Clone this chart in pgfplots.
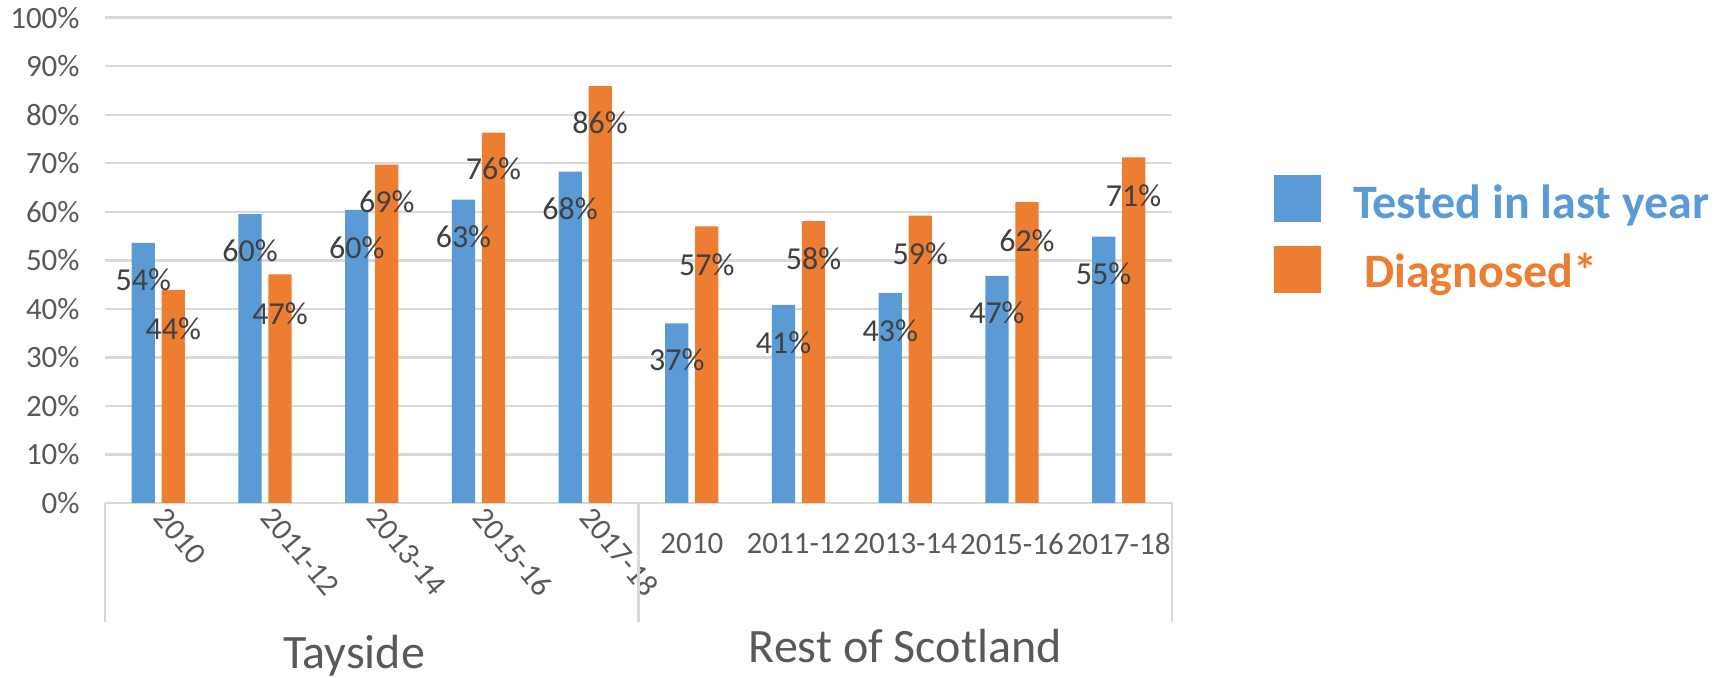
\documentclass[border=0pt]{standalone}
\usepackage{pgfplots}
\pgfplotsset{compat=1.18}
\usepackage{fontspec}
\setmainfont{Carlito}
\definecolor{tblue}{HTML}{5B9BD5}
\definecolor{torange}{HTML}{ED7D31}
\definecolor{gridgray}{HTML}{D9D9D9}
\definecolor{ticktext}{HTML}{595959}
\definecolor{labtext}{HTML}{404040}
\newcommand{\tickfont}{\fontsize{15.5}{18}\selectfont}
\newcommand{\labfont}{\fontsize{16}{19}\selectfont}
\begin{document}
\begin{tikzpicture}
\useasboundingbox (-52.5pt,-87.5pt) rectangle (814pt,251.5pt);
\begin{axis}[
  scale only axis,
  width=533.5pt, height=242.65pt,
  xmin=-0.5, xmax=9.5, ymin=0, ymax=100,
  axis line style={draw=none},
  major tick length=0pt,
  ymajorgrids, grid style={gridgray, line width=1.2pt},
  ytick={0,10,...,100},
  yticklabels={0\%,10\%,20\%,30\%,40\%,50\%,60\%,70\%,80\%,90\%,100\%},
  yticklabel style={font=\tickfont, text=ticktext, anchor=east, inner sep=0pt, xshift=-12.5pt},
  xtick={0,1,2,3,4},
  xticklabels={2010,2011-12,2013-14,2015-16,2017-18},
  xticklabel style={font=\tickfont, text=ticktext, xshift=5pt, yshift=2pt, rotate=-50, anchor=north west, inner sep=2pt},
  clip=false,
  legend style={draw=none, fill=none, at={(rel axis cs:1.0956,0.676)}, anchor=north west,
    inner sep=0pt, outer sep=0pt, row sep=12pt, legend cell align=left,
    font=\fontsize{24}{28}\selectfont\bfseries},
  legend image code/.code={\fill[#1] (0pt,-11.75pt) rectangle (23.5pt,11.75pt);},
]
% Tested in last year
\addplot[ybar, bar width=0.218, bar shift=-0.1406, fill=tblue, draw=none] coordinates {
(0,53.6) (1,59.5) (2,60.4) (3,62.5) (4,68.3)
(5,37.0) (6,40.8) (7,43.3) (8,46.8) (9,54.9)};
\addlegendentry{\hspace{14pt}\raisebox{-5pt}{\textcolor{tblue}{Tested in last year}}}
% Diagnosed*
\addplot[ybar, bar width=0.218, bar shift=0.1406, fill=torange, draw=none] coordinates {
(0,43.9) (1,47.1) (2,69.7) (3,76.3) (4,85.9)
(5,57.0) (6,58.1) (7,59.2) (8,62.0) (9,71.2)};
\addlegendentry{\hspace{19.5pt}\raisebox{-2.5pt}{\textcolor{torange}{Diagnosed*}}}
% data labels (positions as placed in the original chart)
\addplot[draw=none, mark=none, forget plot,
  point meta=explicit symbolic, nodes near coords={\pgfplotspointmeta\%},
  nodes near coords style={anchor=center, font=\labfont, text=labtext, inner sep=0pt}]
  table[meta=lab] {
x y lab
-0.1406 46.0 54
0.8594 51.9 60
1.8594 52.6 60
2.8594 54.8 63
3.8594 60.7 68
4.8594 29.5 37
5.8594 33.1 41
6.8594 35.5 43
7.8594 39.3 47
8.8594 47.2 55
};
\addplot[draw=none, mark=none, forget plot,
  point meta=explicit symbolic, nodes near coords={\pgfplotspointmeta\%},
  nodes near coords style={anchor=center, font=\labfont, text=labtext, inner sep=0pt}]
  table[meta=lab] {
x y lab
0.1406 36.0 44
1.1406 38.9 47
2.1406 62.1 69
3.1406 68.8 76
4.1406 78.3 86
5.1406 49.2 57
6.1406 50.3 58
7.1406 51.4 59
8.1406 54.1 62
9.1406 63.4 71
};
% category separators and group labels
\draw[gridgray, line width=1.2pt] (axis cs:-0.5,0) -- ++(0pt,-59.5pt);
\draw[gridgray, line width=1.2pt] (axis cs:4.5,0) -- ++(0pt,-59.5pt);
\draw[gridgray, line width=1.2pt] (axis cs:9.5,0) -- ++(0pt,-59.5pt);
\node[anchor=base, text=ticktext, font=\fontsize{24}{28}\selectfont, inner sep=0pt] at ([yshift=-82.5pt]axis cs:1.834,0) {Tayside};
\node[anchor=base, text=ticktext, font=\fontsize{24}{28}\selectfont, inner sep=0pt] at ([yshift=-79.5pt]axis cs:7,0) {Rest of Scotland};
\end{axis}
% second axis: horizontal category labels of the "Rest of Scotland" group
\begin{axis}[
  scale only axis,
  width=533.5pt, height=242.65pt,
  xmin=-0.5, xmax=9.5, ymin=0, ymax=100,
  axis line style={draw=none},
  major tick length=0pt,
  ytick=\empty,
  xtick={5,6,7,8,9},
  xticklabels={2010,2011-12,2013-14,2015-16,2017-18},
  xticklabel style={font=\tickfont, text=ticktext, anchor=north, inner sep=0pt, yshift=-15pt},
]
\addplot[draw=none, mark=none, forget plot] coordinates {(5,0) (9,0)};
\end{axis}
\end{tikzpicture}
\end{document}
